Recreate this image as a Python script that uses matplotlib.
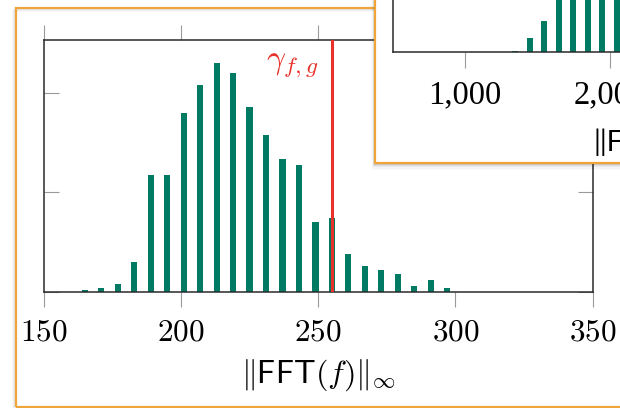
import matplotlib
matplotlib.use("Agg")
import matplotlib.pyplot as plt
from matplotlib.patches import Rectangle

# histogram of ||FFT(f)||_inf (bin centers and counts)
bin_centers = [165, 171, 177, 183, 189, 195, 201, 207, 213, 219, 225, 231,
               237, 243, 249, 255, 261, 267, 273, 279, 285, 291, 297]
counts = [2, 4, 8, 30, 118, 118, 180, 208, 230, 220, 186, 158,
          134, 128, 70, 74, 38, 26, 22, 18, 6, 12, 4]
gamma = 255
xticks = [150, 200, 250, 300, 350]
yticks = [0, 100, 200]

# zoomed-out histogram in the inset (only the left part is visible)
inset_centers = [1345, 1445, 1546, 1646, 1746, 1846, 1946, 2046]
inset_counts = [1.6, 14.6, 31.6, 70, 110, 150, 190, 220]
inset_ticks = [1000, 2000, 3000]
inset_ticklabels = ["1,000", "2,000", "3,000"]

plt.rcParams['mathtext.fontset'] = 'cm'

W, H = 620, 408
TEAL = '#007A63'
ORANGE = '#EFA53A'
RED = '#E8312A'
TICKC = '#9a9a9a'
SPINE = '#2a2a2a'


def fx(px):
    return px / W


def fy(py):
    return (H - py) / H


fig = plt.figure(figsize=(W / 100, H / 100), dpi=100)
fig.patch.set_facecolor('white')

# outer frame of the main panel (with a soft shadow)
for i, a in enumerate([0.06, 0.04, 0.025]):
    fig.patches.append(Rectangle((fx(15.7 - 1 - i), fy(700)), 1.5, fy(8.3 + 1 + i) - fy(700),
                                 transform=fig.transFigure, facecolor='none',
                                 edgecolor=(0, 0, 0, a), lw=1.5, zorder=-2))
fig.patches.append(Rectangle((fx(15.7), fy(407)), 1.5, fy(8.3) - fy(407),
                             transform=fig.transFigure, facecolor='none',
                             edgecolor=ORANGE, lw=1.6, zorder=-1))

# main axes
ax = fig.add_axes([fx(43.7), fy(292.3), fx(592.7) - fx(43.7), fy(40.3) - fy(292.3)])
ax.patch.set_alpha(0)
ax.bar(bin_centers, counts, width=2.25, color=TEAL, zorder=2)
ax.axvline(gamma, color=RED, lw=2.2, zorder=3)
ax.text(250, 229, r'$\gamma_{f,g}$', color=RED, fontsize=24, ha='right', va='center')
ax.set_xlim(150, 350)
ax.set_ylim(0, 252.5)
ax.set_xticks(xticks)
ax.set_xticklabels(['$%d$' % t for t in xticks], fontsize=22.5)
ax.set_yticks(yticks)
ax.set_yticklabels([])
ax.tick_params(axis='x', direction='out', top=True, length=10.8, width=0.8,
               color=TICKC, pad=7.5)
ax.tick_params(axis='y', direction='in', right=True, length=11, width=0.8, color=TICKC)
for s in ax.spines.values():
    s.set_color(SPINE)
    s.set_linewidth(1.1)
ax.set_xlabel(r'$\|\mathsf{FFT}(f)\|_\infty$', fontsize=23, labelpad=8)

# inset panel: shadow, white box with orange border
for i, a in enumerate([0.09, 0.06, 0.04, 0.025, 0.015]):
    fig.patches.append(Rectangle((fx(375 - 1 - i * 0.7), fy(163.3 + 1.5 + i * 1.3)), 1.0,
                                 fy(-300) - fy(163.3 + 1.5 + i * 1.3),
                                 transform=fig.transFigure, facecolor=(0, 0, 0, a),
                                 edgecolor='none', zorder=2))
fig.patches.append(Rectangle((fx(375), fy(163.3)), 1.0, fy(-300) - fy(163.3),
                             transform=fig.transFigure, facecolor='white',
                             edgecolor=ORANGE, lw=1.6, zorder=3))

ins = fig.add_axes([fx(392.7), fy(52.3), 3500 * 0.145 / W, 250 / H], zorder=4)
ins.patch.set_alpha(0)
ins.bar(inset_centers, inset_counts, width=40, color=TEAL)
ins.set_xlim(500, 4000)
ins.set_ylim(0, 250)
ins.set_xticks(inset_ticks)
ins.set_xticklabels(inset_ticklabels, fontsize=23.5, family='Liberation Serif')
ins.set_yticks([])
ins.tick_params(axis='x', direction='out', length=11.5, width=0.8, color=TICKC, pad=8)
for s in ins.spines.values():
    s.set_color(SPINE)
    s.set_linewidth(1.1)
fig.text(fx(594), fy(142), '||FFT(f)||', fontsize=20, family='Lato',
         ha='left', va='center', zorder=5)

fig.savefig('out.png', dpi=100)
